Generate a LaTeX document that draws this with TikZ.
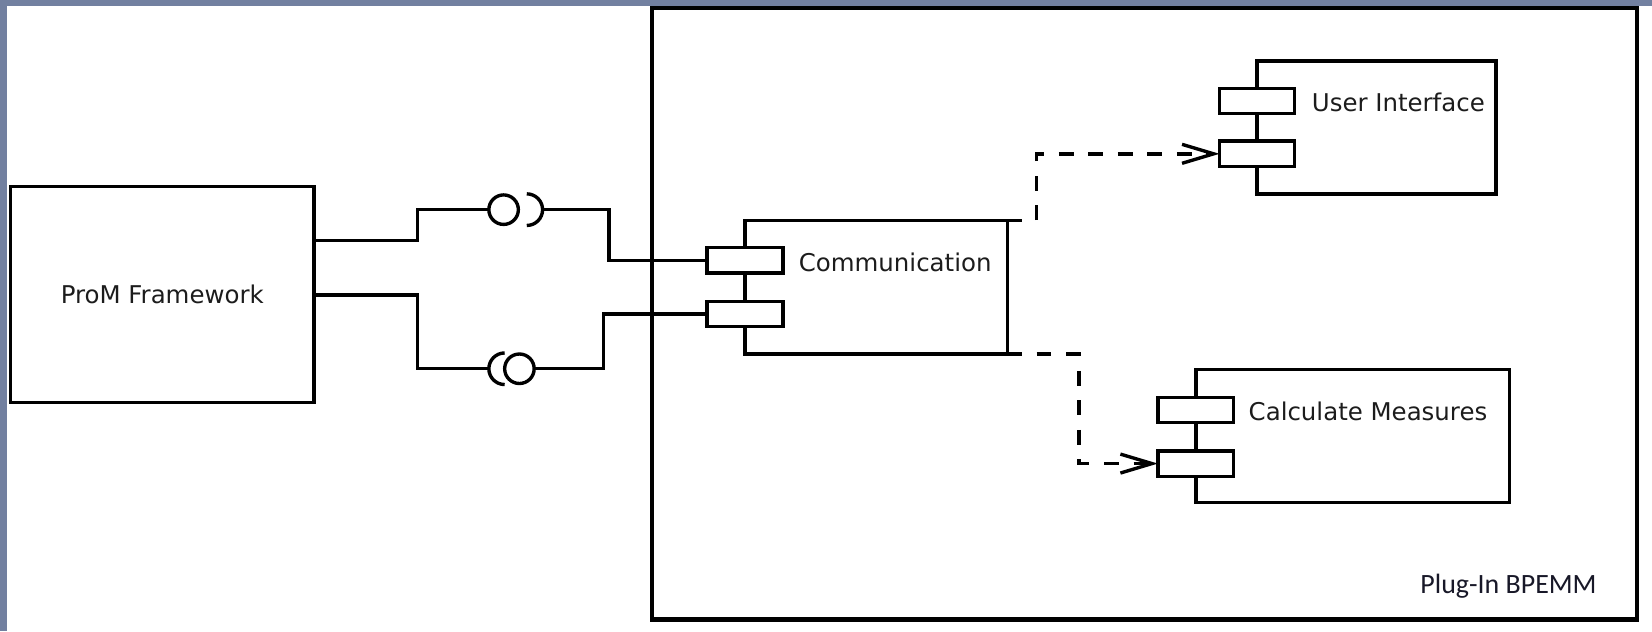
\documentclass[tikz,border=0pt]{standalone}
\usepackage{fontspec}
\setmainfont{DejaVu Sans}
\newfontfamily\calibfont{Carlito}
\usetikzlibrary{arrows.meta,calc}
\definecolor{frameblue}{RGB}{114,128,160}
\definecolor{txt}{RGB}{28,28,28}
\definecolor{navytxt}{RGB}{24,24,40}
\begin{document}
\begin{tikzpicture}[x=1pt,y=-1pt,
  box/.style={draw, line width=3.4pt, inner sep=0pt, outer sep=0pt},
  port/.style={draw, fill=white, line width=3.2pt, minimum width=72pt, minimum height=24pt, inner sep=0pt, outer sep=0pt},
  wire/.style={line width=3.2pt},
  dep/.style={line width=3.2pt, dash pattern=on 14pt off 14pt, -{Straight Barb[length=30pt,width=18pt]}},
  lbl/.style={font=\fontsize{23.2}{28}\selectfont, text=txt, inner sep=0pt, anchor=west},
  ball/.style={draw, circle, line width=3.2pt, minimum size=28pt, inner sep=0pt, outer sep=0pt}
]
\useasboundingbox (0,0) rectangle (1568,599);
\fill[frameblue] (0,0) rectangle (1568,599);
\fill[white] (7,5.5) rectangle (1568,599);

% outer plug-in box
\node[box, line width=4.2pt, minimum width=935pt, minimum height=580.5pt] (plugin) at (1086.5,297.75) {};
\node[font=\calibfont\fontsize{26.5}{31}\selectfont, text=navytxt, inner sep=0pt, anchor=base west] (plabel) at (1348,563) {Plug-In BPEMM};

% ProM framework
\node[box, minimum width=288pt, minimum height=205pt, font=\fontsize{23.2}{28}\selectfont, text=txt] (prom) at (154,279.5) {ProM Framework};

% Communication component
\node[box, line width=3.2pt, minimum width=249pt, minimum height=127pt] (comm) at (831.5,272.5) {};
\node[port] (c1) at (comm.west |- 0,247) {};
\node[port] (c2) at (comm.west |- 0,298) {};
\node[lbl] (commtxt) at (758,249) {Communication};

% User Interface component
\node[box, line width=3.2pt, minimum width=227pt, minimum height=126pt] (ui) at (1306.5,121) {};
\node[port, minimum width=71pt] (u1) at (ui.west |- 0,96) {};
\node[port, minimum width=71pt] (u2) at (ui.west |- 0,146) {};
\node[lbl] (uitxt) at (1245,97) {User Interface};

% Calculate Measures component
\node[box, line width=3.2pt, minimum width=298pt, minimum height=126pt] (cm) at (1284,414) {};
\node[port] (m1) at (cm.west |- 0,389) {};
\node[port] (m2) at (cm.west |- 0,440) {};
\node[lbl] (cmtxt) at (1185,390) {Calculate Measures};

% provided / required interfaces
\coordinate (p1) at ($(prom.north east)+(0,51)$);
\coordinate (p2) at ($(prom.north east)+(0,103)$);
\node[ball] (ball1) at (478,199) {};
\coordinate (s1e) at (515,199);
\draw[wire] (s1e) arc[start angle=0,end angle=90,radius=15] (s1e) arc[start angle=0,end angle=-90,radius=15];
\node[ball] (ball2) at (493,350) {};
\coordinate (s2w) at (464,350);
\draw[wire] (s2w) arc[start angle=180,end angle=90,radius=15] (s2w) arc[start angle=180,end angle=270,radius=15];

\draw[wire] (p1) -- ++(98,0) |- (ball1.west);
\draw[wire] (s1e) -- ++(63,0) |- (c1.west);
\draw[wire] (p2) -- ++(98,0) |- (s2w);
\draw[wire] (ball2.east) -- ++(66,0) |- (c2.west);

% dependencies
\draw[dep] (comm.north east) -- ++(28,0) |- (u2.west);
\draw[dep] (comm.south east) -- ++(68,0) |- (m2.west);
\end{tikzpicture}
\end{document}
